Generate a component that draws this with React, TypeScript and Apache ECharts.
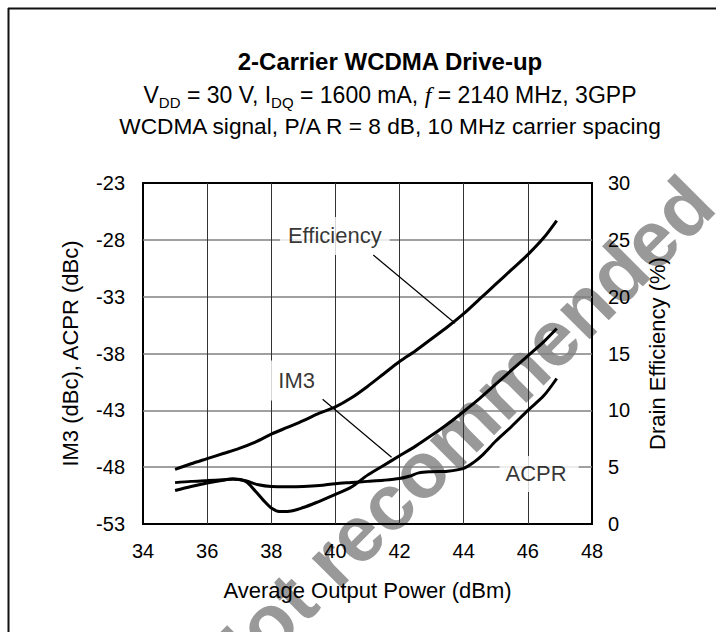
import React, { useEffect, useRef } from 'react';
import * as echarts from 'echarts';

const FONT = '"Liberation Sans", Arial, Helvetica, sans-serif';

// X axis (Average Output Power, dBm)
const xMin = 34;
const xMax = 48;
const xStep = 2;
// Left axis (IM3 / ACPR, dBc)
const leftMin = -53;
const leftMax = -23;
const leftStep = 5;
// Right axis (Drain Efficiency, %)
const rightMin = 0;
const rightMax = 30;
const rightStep = 5;

// Efficiency (%) vs Pout
const effX = [35, 35.5, 36, 36.5, 37, 37.5, 38, 38.5, 39, 39.5, 40, 40.5, 41, 41.5, 42, 42.5, 43, 43.5, 44, 44.5, 45, 45.5, 46, 46.5, 46.9];
const effY = [4.8, 5.3, 5.75, 6.2, 6.65, 7.2, 7.9, 8.5, 9.1, 9.75, 10.3, 11.1, 12.1, 13.2, 14.3, 15.25, 16.3, 17.35, 18.5, 19.8, 21.1, 22.4, 23.7, 25.2, 26.7];

// IM3 (dBc) vs Pout
const im3X = [35, 35.5, 36, 36.5, 36.8, 37.2, 37.5, 37.75, 38, 38.25, 38.5, 39, 39.5, 40, 40.5, 41, 41.5, 42, 42.5, 43, 43.5, 44, 44.5, 45, 45.5, 46, 46.5, 46.9];
const im3Y = [-50.05, -49.7, -49.4, -49.15, -49.05, -49.25, -50.1, -50.9, -51.6, -51.9, -51.9, -51.55, -51.0, -50.4, -49.75, -48.7, -47.85, -47.0, -46.15, -45.2, -44.2, -43.1, -41.95, -40.7, -39.45, -38.2, -36.95, -35.8];

// ACPR (dBc) vs Pout
const acprX = [35, 35.5, 36, 36.5, 36.8, 37.2, 37.6, 38, 38.5, 39, 39.5, 40, 40.5, 41, 41.5, 42, 42.3, 42.6, 43, 43.5, 44, 44.3, 44.6, 45, 45.5, 46, 46.5, 46.9];
const acprY = [-49.36, -49.25, -49.18, -49.1, -49.05, -49.2, -49.55, -49.7, -49.72, -49.7, -49.62, -49.45, -49.35, -49.25, -49.15, -49.0, -48.8, -48.5, -48.4, -48.35, -48.1, -47.6, -46.9, -45.7, -44.4, -43.0, -41.7, -40.2];

// Curve annotations (data coordinates on left axis)
const labelNames = ['Efficiency', 'IM3', 'ACPR'];
const labelX = [39.98, 38.79, 46.35];
const labelY = [-27.66, -40.37, -48.6];
const labelPads = [[8, 8], [9, 14], [1, 12, 13, 6]];
// Leader lines [x1, y1, x2, y2] in data coordinates (left axis)
const leaders = [
  [41.18, -29.33, 43.73, -35.34],
  [39.6, -42.02, 41.75, -47.13],
];

const pairs = (xs: number[], ys: number[]) => xs.map((x, i) => [x, ys[i]]);

export default function App() {
  const ref = useRef<HTMLDivElement>(null);

  useEffect(() => {
    if (!ref.current) return;
    const chart = echarts.init(ref.current, null, { renderer: 'svg' });

    const curveStyle = { color: '#000', width: 3 };

    const option: any = {
      animation: false,
      backgroundColor: '#fff',
      textStyle: { fontFamily: FONT },
      grid: {
        left: 143,
        top: 183,
        width: 449,
        height: 341,
        show: true,
        borderColor: '#000',
        borderWidth: 2,
        backgroundColor: 'transparent',
      },
      xAxis: {
        type: 'value',
        min: xMin,
        max: xMax,
        interval: xStep,
        axisLine: { show: false },
        axisTick: { show: false },
        splitLine: { show: true, showMinLine: false, showMaxLine: false, lineStyle: { color: '#333', width: 1 } },
        axisLabel: { color: '#000', fontSize: 20, margin: 17, fontFamily: FONT },
        name: 'Average Output Power (dBm)',
        nameLocation: 'middle',
        nameGap: 55,
        nameTextStyle: { color: '#000', fontSize: 22, fontFamily: FONT },
      },
      yAxis: [
        {
          type: 'value',
          position: 'left',
          min: leftMin,
          max: leftMax,
          interval: leftStep,
          axisLine: { show: false },
          axisTick: { show: false },
          splitLine: { show: true, showMinLine: false, showMaxLine: false, lineStyle: { color: '#808080', width: 1.5 } },
          axisLabel: { color: '#000', fontSize: 20, margin: 18, fontFamily: FONT },
          name: 'IM3 (dBc), ACPR (dBc)',
          nameLocation: 'middle',
          nameGap: 62,
          nameRotate: 90,
          nameTextStyle: { color: '#000', fontSize: 22, fontFamily: FONT },
        },
        {
          type: 'value',
          position: 'right',
          min: rightMin,
          max: rightMax,
          interval: rightStep,
          axisLine: { show: false },
          axisTick: { show: false },
          splitLine: { show: false },
          axisLabel: { color: '#000', fontSize: 20, margin: 16, fontFamily: FONT },
          name: 'Drain Efficiency (%)',
          nameLocation: 'middle',
          nameGap: 54,
          nameRotate: 90,
          nameTextStyle: { color: '#000', fontSize: 22, fontFamily: FONT },
        },
      ],
      series: [
        {
          name: 'Efficiency',
          type: 'line',
          yAxisIndex: 1,
          data: pairs(effX, effY),
          showSymbol: false,
          smooth: 0.3,
          lineStyle: curveStyle,
          z: 4,
        },
        {
          name: 'IM3',
          type: 'line',
          yAxisIndex: 0,
          data: pairs(im3X, im3Y),
          showSymbol: false,
          smooth: 0.3,
          lineStyle: curveStyle,
          z: 4,
          markLine: {
            silent: true,
            symbol: ['none', 'none'],
            label: { show: false },
            lineStyle: { color: '#000', width: 1.2, type: 'solid' },
            data: leaders.map((l) => [{ coord: [l[0], l[1]] }, { coord: [l[2], l[3]] }]),
          },
        },
        {
          name: 'ACPR',
          type: 'line',
          yAxisIndex: 0,
          data: pairs(acprX, acprY),
          showSymbol: false,
          smooth: 0.3,
          lineStyle: curveStyle,
          z: 4,
        },
        {
          name: 'labels',
          type: 'scatter',
          yAxisIndex: 0,
          symbolSize: 1,
          itemStyle: { color: 'transparent' },
          silent: true,
          z: 3,
          data: labelNames.map((n, i) => ({
            name: n,
            value: [labelX[i], labelY[i]],
            label: { padding: labelPads[i] },
          })),
          label: {
            show: true,
            position: 'inside',
            formatter: '{b}',
            color: '#000',
            fontSize: 22,
            fontFamily: FONT,
            backgroundColor: '#fff',
          },
        },
      ],
      graphic: [
        {
          type: 'text',
          z: -10,
          silent: true,
          x: 455,
          y: 436,
          rotation: Math.PI / 4,
          style: {
            text: 'Not recommended',
            fill: '#999999',
            font: `bold 79px ${FONT}`,
            align: 'center',
            verticalAlign: 'middle',
          },
        },
        {
          type: 'line',
          silent: true,
          shape: { x1: 8, y1: 8.5, x2: 716, y2: 8.5 },
          style: { stroke: '#111', lineWidth: 2 },
        },
        {
          type: 'line',
          silent: true,
          shape: { x1: 8.5, y1: 8, x2: 8.5, y2: 632 },
          style: { stroke: '#111', lineWidth: 2 },
        },
        {
          type: 'text',
          silent: true,
          x: 390,
          y: 61,
          style: {
            text: '2-Carrier WCDMA Drive-up',
            fill: '#000',
            font: `bold 24px ${FONT}`,
            align: 'center',
            verticalAlign: 'middle',
          },
        },
        {
          type: 'text',
          silent: true,
          x: 390,
          y: 95,
          style: {
            text: 'V{sub|DD} = 30 V, I{sub|DQ} = 1600 mA, {it|f} = 2140 MHz, 3GPP',
            fill: '#000',
            fontSize: 23,
            fontFamily: FONT,
            lineHeight: 30,
            align: 'center',
            verticalAlign: 'middle',
            rich: {
              sub: { fontSize: 15, fontFamily: FONT, lineHeight: 14, verticalAlign: 'bottom', fill: '#000' },
              it: { fontSize: 24, fontFamily: '"Liberation Serif", serif', fontStyle: 'italic', lineHeight: 30, fill: '#000' },
            },
          },
        },
        {
          type: 'text',
          silent: true,
          x: 390,
          y: 126,
          style: {
            text: 'WCDMA signal, P/A R = 8 dB, 10 MHz carrier spacing',
            fill: '#000',
            font: `22.7px ${FONT}`,
            align: 'center',
            verticalAlign: 'middle',
          },
        },
      ],
    };

    chart.setOption(option);
    return () => chart.dispose();
  }, []);

  return (
    <div
      ref={ref}
      style={{ position: 'fixed', left: 0, top: 0, width: 716, height: 632, background: '#fff' }}
    />
  );
}
